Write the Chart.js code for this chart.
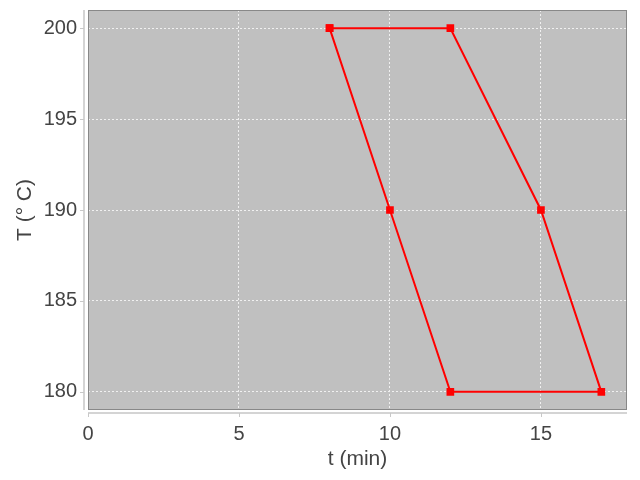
<!DOCTYPE html>
<html><head><meta charset="utf-8">
<script src="https://cdn.jsdelivr.net/npm/chart.js@4"></script>
<style>html,body{margin:0;padding:0;background:#fff}#wrap{width:640px;height:480px}</style>
</head><body><div id="wrap"><canvas id="c" width="640" height="480"></canvas></div>
<script>
const tValues = [8, 12, 15, 17, 12, 10, 8];
const TValues = [200, 200, 190, 180, 180, 190, 200];
const xTicks = [0, 5, 10, 15];
const yTicks = [180, 185, 190, 195, 200];
const xLabel = 't (min)';
const yLabel = 'T (° C)';

const points = tValues.map((t, i) => ({x: t, y: TValues[i]}));

const framePlugin = {
  id: 'frame',
  beforeDraw(chart) {
    const {ctx, chartArea: a} = chart;
    ctx.save();
    ctx.fillStyle = '#c0c0c0';
    ctx.fillRect(a.left, a.top, a.right - a.left, a.bottom - a.top);
    ctx.restore();
  },
  afterDatasetsDraw(chart) {
    const {ctx, chartArea: a, scales} = chart;
    ctx.save();
    ctx.strokeStyle = '#888888';
    ctx.lineWidth = 1;
    ctx.strokeRect(a.left + 0.5, a.top + 0.5, a.right - a.left - 1, a.bottom - a.top - 1);
    ctx.strokeStyle = '#d4d4d4';
    ctx.lineWidth = 2;
    ctx.beginPath();
    ctx.moveTo(a.left - 4, a.top); ctx.lineTo(a.left - 4, a.bottom);
    ctx.moveTo(a.left, a.bottom + 3); ctx.lineTo(a.right, a.bottom + 3);
    ctx.stroke();
    ctx.strokeStyle = '#c8c8c8';
    ctx.lineWidth = 1;
    ctx.beginPath();
    yTicks.forEach(v => { const y = Math.round(scales.y.getPixelForValue(v)) + 0.5; ctx.moveTo(a.left - 8, y); ctx.lineTo(a.left - 4, y); });
    xTicks.forEach(v => { const x = Math.round(scales.x.getPixelForValue(v)) + 0.5; ctx.moveTo(x, a.bottom + 3); ctx.lineTo(x, a.bottom + 7); });
    ctx.stroke();
    ctx.restore();
  }
};

new Chart(document.getElementById('c'), {
  type: 'scatter',
  data: {
    datasets: [{
      data: points,
      showLine: true,
      borderColor: '#ff0000',
      backgroundColor: '#ff0000',
      borderWidth: 2,
      pointStyle: 'rect',
      pointRadius: 4,
      pointHoverRadius: 4,
      tension: 0
    }]
  },
  options: {
    responsive: false,
    animation: false,
    devicePixelRatio: 1,
    layout: {padding: {top: 10, right: 13, left: 13, bottom: 8}},
    plugins: {legend: {display: false}, tooltip: {enabled: false}},
    scales: {
      x: {
        type: 'linear', min: 0, max: 17.85,
        afterBuildTicks(s) { s.ticks = xTicks.map(v => ({value: v})); },
        afterFit(s) { s.height = 62; s.paddingLeft = 0; s.paddingRight = 0; },
        border: {display: false, dash: [2, 2]},
        grid: {color: '#f0f0f0', drawTicks: false, lineWidth: 1},
        ticks: {padding: 12, color: '#444444', font: {family: 'Liberation Sans', size: 20}, maxRotation: 0},
        title: {display: true, text: xLabel, color: '#444444', font: {family: 'Liberation Sans', size: 21}, padding: {top: 2, bottom: 0}}
      },
      y: {
        type: 'linear', min: 179, max: 201,
        afterBuildTicks(s) { s.ticks = yTicks.map(v => ({value: v})); },
        afterFit(s) { s.width = 75; s.paddingTop = 0; s.paddingBottom = 0; },
        border: {display: false, dash: [2, 2]},
        grid: {color: '#f0f0f0', drawTicks: false, lineWidth: 1},
        ticks: {padding: 11, color: '#444444', font: {family: 'Liberation Sans', size: 20}},
        title: {display: true, text: yLabel, color: '#444444', font: {family: 'Liberation Sans', size: 21}, padding: {top: 0, bottom: 4}}
      }
    }
  },
  plugins: [framePlugin]
});
</script></body></html>
